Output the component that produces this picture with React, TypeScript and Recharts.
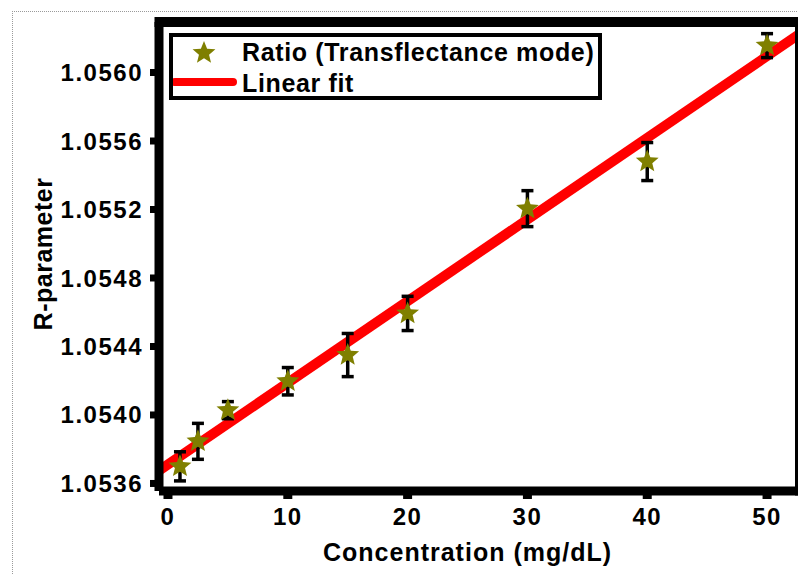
import React from 'react';
import { ComposedChart, Scatter, Line, XAxis, YAxis, ErrorBar, Legend } from 'recharts';

// measured values (concentration in mg/dL, R-parameter)
const concentration = [1, 2.5, 5, 10, 15, 20, 30, 40, 50];
const ratio = [1.0537, 1.053846, 1.054028, 1.054197, 1.05435, 1.054593, 1.055205, 1.05548, 1.056157];
const ratioError = [0.000085, 0.000105, 0.00005, 0.00008, 0.000126, 0.0001, 0.000105, 0.000111, 0.00007];

// linear fit end points
const fitX = [-0.75, 52.75];
const fitY = [1.053675, 1.056227];

const xTicks = [0, 10, 20, 30, 40, 50];
const yTicks = [1.0536, 1.054, 1.0544, 1.0548, 1.0552, 1.0556, 1.056];

const xDomain = [-0.75, 52.75];
const yDomain = [1.053556, 1.056295];

const points = concentration.map((x, i) => ({ x, y: ratio[i], err: ratioError[i] }));
const fitLine = fitX.map((x, i) => ({ x, y: fitY[i] }));

const FONT = "'Liberation Sans', Arial, Helvetica, sans-serif";
const OLIVE = '#7f7f00';
const RED = '#ff0000';
const PLOT_TOP = 22;

const starPoints = (cx: number, cy: number, r: number, ir: number) => {
  const pts: string[] = [];
  for (let k = 0; k < 10; k++) {
    const rad = k % 2 === 0 ? r : ir;
    const a = -Math.PI / 2 + (k * Math.PI) / 5;
    pts.push(`${cx + rad * Math.cos(a)},${cy + rad * Math.sin(a)}`);
  }
  return pts.join(' ');
};

const Star = (props: any) => {
  const { cx, cy } = props;
  if (cx == null || cy == null) return null;
  return <polygon points={starPoints(cx, cy, 12, 5.3)} fill={OLIVE} />;
};

const LegendBox = () => (
  <div
    style={{
      width: 433,
      height: 67,
      border: '4px solid #000',
      boxSizing: 'border-box',
      position: 'relative',
      background: '#fff',
      fontFamily: FONT,
      fontWeight: 700,
      fontSize: 25,
      color: '#000',
    }}
  >
    <svg width={70} height={59} style={{ position: 'absolute', left: 0, top: 0 }}>
      <polygon points={starPoints(31, 16, 12, 5.3)} fill={OLIVE} />
      <line x1={2} y1={45} x2={60} y2={45} stroke={RED} strokeWidth={8} strokeLinecap="round" />
    </svg>
    <span style={{ position: 'absolute', left: 69, top: 0, lineHeight: '30px', letterSpacing: 0.65, whiteSpace: 'nowrap' }}>
      Ratio (Transflectance mode)
    </span>
    <span style={{ position: 'absolute', left: 69, top: 31, lineHeight: '30px', letterSpacing: 0.65, whiteSpace: 'nowrap' }}>
      Linear fit
    </span>
  </div>
);

// x-axis title, plus the top and right edges of the box frame
const XTitle = (props: any) => {
  const vb = props.viewBox || { x: 159, y: 491, width: 641, height: 84 };
  const cx = vb.x + vb.width / 2 - 12;
  const y = vb.y + vb.height - 14;
  const right = vb.x + vb.width;
  return (
    <g>
      <rect x={vb.x - 4.5} y={PLOT_TOP - 5} width={vb.width + 10} height={10} fill="#000" />
      <rect x={right - 5} y={PLOT_TOP - 5} width={10} height={vb.y - PLOT_TOP + 9.5} fill="#000" />
      <text x={cx} y={y} textAnchor="middle" fontFamily={FONT} fontWeight={700} fontSize={25} letterSpacing={1} fill="#000">
        Concentration (mg/dL)
      </text>
    </g>
  );
};

const YTitle = () => (
  <text
    x={52}
    y={254}
    transform="rotate(-90 52 254)"
    textAnchor="middle"
    fontFamily={FONT}
    fontWeight={700}
    fontSize={25}
    letterSpacing={0.5}
    fill="#000"
  >
    R-parameter
  </text>
);

const tickStyle = { fill: '#000', fontSize: 24, fontWeight: 700, fontFamily: FONT, letterSpacing: 1.5 };

export default function App() {
  return (
    <div style={{ position: 'absolute', left: 0, top: 0, width: 798, height: 575, overflow: 'hidden', background: '#fff' }}>
      <div
        style={{
          position: 'absolute',
          left: 12,
          top: 11,
          width: 800,
          height: 580,
          borderTop: '1px dotted #9a9a9a',
          borderLeft: '1px dotted #9a9a9a',
        }}
      />
      <div style={{ position: 'absolute', left: 0, top: 0 }}>
        <ComposedChart width={802} height={575} margin={{ top: PLOT_TOP, right: 2, bottom: 0, left: 0 }}>
          <XAxis
            dataKey="x"
            type="number"
            domain={xDomain}
            ticks={xTicks}
            allowDataOverflow
            height={84}
            axisLine={{ stroke: '#000', strokeWidth: 9 }}
            tickLine={{ stroke: '#000', strokeWidth: 9 }}
            tickSize={8}
            tickMargin={9}
            tick={tickStyle}
            label={<XTitle />}
          />
          <YAxis
            type="number"
            domain={yDomain}
            ticks={yTicks}
            allowDataOverflow
            width={159}
            axisLine={{ stroke: '#000', strokeWidth: 9 }}
            tickLine={{ stroke: '#000', strokeWidth: 7 }}
            tickSize={9}
            tickMargin={7}
            tick={tickStyle}
            tickFormatter={(v: number) => v.toFixed(4)}
            label={<YTitle />}
          />
          <Legend
            layout="vertical"
            align="center"
            verticalAlign="middle"
            content={<LegendBox />}
            wrapperStyle={{ position: 'absolute', left: 169, top: 33, width: 433, height: 67 }}
          />
          <Line
            data={fitLine}
            dataKey="y"
            name="Linear fit"
            stroke={RED}
            strokeWidth={10}
            dot={false}
            activeDot={false}
            isAnimationActive={false}
          />
          <Scatter
            data={points}
            dataKey="y"
            name="Ratio (Transflectance mode)"
            shape={<Star />}
            isAnimationActive={false}
          >
            <ErrorBar dataKey="err" direction="y" width={6} stroke="#000" strokeWidth={3.5} isAnimationActive={false} />
          </Scatter>
        </ComposedChart>
      </div>
    </div>
  );
}
